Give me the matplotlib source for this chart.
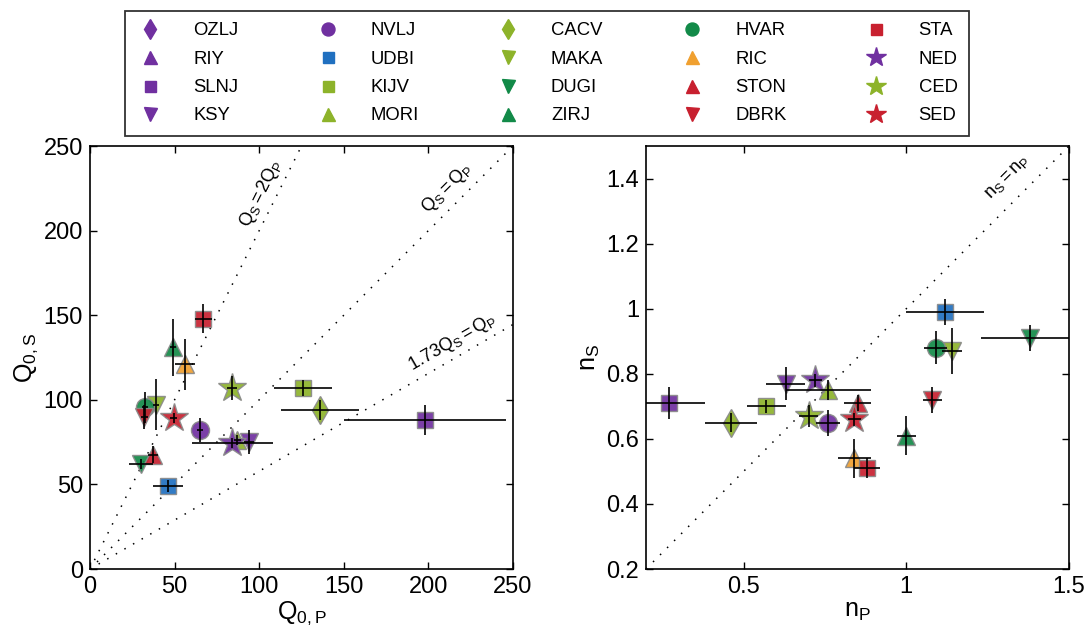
import numpy as np
import matplotlib
matplotlib.use("Agg")
import matplotlib.pyplot as plt
from matplotlib.lines import Line2D

FONT = 'Liberation Sans'
plt.rcParams['font.family'] = [FONT, 'DejaVu Sans']
plt.rcParams['mathtext.fontset'] = 'custom'
plt.rcParams['mathtext.rm'] = FONT
plt.rcParams['mathtext.it'] = FONT

names = ['OZLJ', 'RIY', 'SLNJ', 'KSY', 'NVLJ', 'UDBI', 'KIJV', 'MORI', 'CACV', 'MAKA',
         'DUGI', 'ZIRJ', 'HVAR', 'RIC', 'STON', 'DBRK', 'STA', 'NED', 'CED', 'SED']

nan = np.nan
# Left panel: Q0,P vs Q0,S
Qp     = [nan, nan, 198, 94, 65, 46, 126, 87, 136, 39, 30, 49, 32.5, 56, 37, 32, 67, 84, 84, 49.5]
Qs     = [nan, nan, 88, 75, 82, 49, 107, 76, 94, 97, 62, 131, 95.5, 121, 67.5, 90, 148, 74.5, 107, 89]
Qp_err = [nan, nan, 48, 3, 2, 9, 17, 2, 23, 2, 7, 2, 2, 6, 3, 2, 5, 24, 3, 2]
Qs_err = [nan, nan, 9, 7, 7, 3.5, 4.5, 3, 6, 15, 3, 17, 9, 15, 5, 7, 8.5, 3, 7, 3]

# Right panel: nP vs nS
nP     = [nan, nan, 0.27, 0.63, 0.76, 1.12, 0.57, 0.76, 0.46, 1.14, 1.38, 1.00, 1.09, 0.84, 0.85, 1.08, 0.88, 0.72, 0.70, 0.84]
nS     = [nan, nan, 0.71, 0.77, 0.65, 0.99, 0.70, 0.75, 0.65, 0.87, 0.91, 0.61, 0.88, 0.54, 0.71, 0.72, 0.51, 0.78, 0.67, 0.66]
nP_err = [nan, nan, 0.11, 0.06, 0.037, 0.12, 0.06, 0.13, 0.08, 0.03, 0.15, 0.03, 0.035, 0.05, 0.04, 0.03, 0.04, 0.02, 0.03, 0.02]
nS_err = [nan, nan, 0.05, 0.05, 0.04, 0.04, 0.02, 0.03, 0.03, 0.07, 0.04, 0.06, 0.05, 0.06, 0.025, 0.04, 0.03, 0.02, 0.035, 0.02]

purple = '#7030A0'
blue = '#2070C0'
ygreen = '#8DB32A'
green = '#128A48'
orange = '#F0A030'
red = '#C8202F'

colors = [purple, purple, purple, purple, purple, blue, ygreen, ygreen, ygreen, ygreen,
          green, green, green, orange, red, red, red, purple, ygreen, red]
markers = ['d', '^', 's', 'v', 'o', 's', 's', '^', 'd', 'v',
           'v', '^', 'o', '^', '^', 'v', 's', '*', '*', '*']
msize = {'d': 14, '^': 13, 's': 11, 'v': 13, 'o': 13, '*': 21}

fig = plt.figure(figsize=(10.89, 6.3), dpi=100)
axL = fig.add_axes([90/1089, 61/630, 423/1089, 423/630])
axR = fig.add_axes([646/1089, 61/630, 423/1089, 423/630])

def draw(ax, xs, ys, xe, ye):
    for i in range(len(names)):
        if np.isnan(xs[i]):
            continue
        ax.plot(xs[i], ys[i], marker=markers[i], color=colors[i], markersize=msize[markers[i]],
                markeredgecolor='#8a8a8a', markeredgewidth=1.0, linestyle='none', zorder=3, alpha=0.92)
        ax.errorbar(xs[i], ys[i], xerr=xe[i], yerr=ye[i], fmt='none', ecolor='black',
                    elinewidth=1.2, capsize=0, zorder=4)

dot = (0, (1, 5.5))
ann = 13
# Left panel guide lines
xx = np.array([0, 250])
axL.plot([0, 125], [0, 250], color='black', linestyle=dot, linewidth=1.1, zorder=1)
axL.plot(xx, xx, color='black', linestyle=dot, linewidth=1.1, zorder=1)
axL.plot(xx, xx / 1.73, color='black', linestyle=dot, linewidth=1.1, zorder=1)
draw(axL, Qp, Qs, Qp_err, Qs_err)
axL.text(101, 222, r'$\mathrm{Q_S = 2Q_P}$', rotation=63.4, fontsize=ann, ha='center', va='center')
axL.text(211, 225, r'$\mathrm{Q_S = Q_P}$', rotation=45, fontsize=ann, ha='center', va='center')
axL.text(214, 134, r'$\mathrm{1.73Q_S = Q_P}$', rotation=30, fontsize=ann, ha='center', va='center')
axL.set_xlim(0, 250)
axL.set_ylim(0, 250)
axL.set_xticks([0, 50, 100, 150, 200, 250])
axL.set_yticks([0, 50, 100, 150, 200, 250])
axL.set_xlabel(r'$\mathrm{Q_{0,P}}$', fontsize=18, labelpad=1)
axL.set_ylabel(r'$\mathrm{Q_{0,S}}$', fontsize=18, labelpad=3)

# Right panel
axR.plot([0.2, 1.5], [0.2, 1.5], color='black', linestyle=dot, linewidth=1.1, zorder=1)
draw(axR, nP, nS, nP_err, nS_err)
axR.text(1.31, 1.405, r'$\mathrm{n_S = n_P}$', rotation=45, fontsize=ann, ha='center', va='center')
axR.set_xlim(0.2, 1.5)
axR.set_ylim(0.2, 1.5)
axR.set_xticks([0.5, 1, 1.5])
axR.set_xticklabels(['0.5', '1', '1.5'])
axR.set_yticks([0.2, 0.4, 0.6, 0.8, 1.0, 1.2, 1.4])
axR.set_yticklabels(['0.2', '0.4', '0.6', '0.8', '1', '1.2', '1.4'])
axR.set_xlabel(r'$\mathrm{n_P}$', fontsize=18, labelpad=1)
axR.set_ylabel(r'$\mathrm{n_S}$', fontsize=18, labelpad=3)

for ax in (axL, axR):
    ax.tick_params(direction='in', length=5, width=1, labelsize=17, top=True, right=True, pad=5)
    for s in ax.spines.values():
        s.set_linewidth(1.2)

handles = [Line2D([], [], marker=markers[i], color=colors[i], linestyle='none',
                  markersize=msize[markers[i]] * 0.72, markeredgecolor=colors[i])
           for i in range(len(names))]
leg_fs = 13.3
em = leg_fs * 100 / 72
leg = fig.legend(handles, names, ncol=5, loc='upper left', bbox_to_anchor=(125/1089, 1 - 11/630),
                 frameon=True, fancybox=False, fontsize=leg_fs,
                 handlelength=28/em, handletextpad=29/em, columnspacing=75/em,
                 labelspacing=0.61, borderpad=0.62, borderaxespad=0)
leg.get_frame().set_edgecolor('black')
leg.get_frame().set_linewidth(1.3)

fig.savefig('out.png', dpi=100)
